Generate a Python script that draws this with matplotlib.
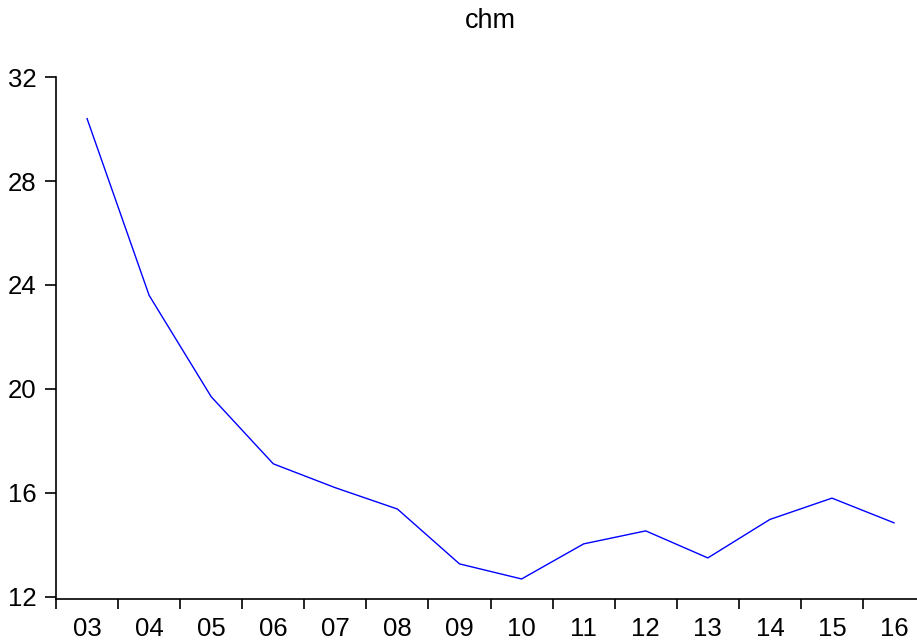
import numpy as np
import matplotlib.pyplot as plt
from matplotlib.ticker import FixedLocator

plt.rcParams['font.family'] = ['Liberation Sans', 'DejaVu Sans']

years = ['03', '04', '05', '06', '07', '08', '09', '10', '11', '12', '13', '14', '15', '16']
chm = [30.4, 23.6, 19.7, 17.12, 16.2, 15.38, 13.27, 12.69, 14.04, 14.54, 13.5, 14.98, 15.8, 14.85]

fig = plt.figure(figsize=(9.17, 6.42), dpi=100)
ax = fig.add_axes([0.0611, 0.067, 0.9389, 0.813])

x = np.arange(len(years))
ax.plot(x, chm, color='#0000ff', lw=1.0)

ax.set_xlim(-0.5, 13.37)
ax.set_ylim(11.92, 32)
ax.set_yticks([12, 16, 20, 24, 28, 32])
ax.set_xticks(x)
ax.set_xticklabels(years)
ax.xaxis.set_minor_locator(FixedLocator(np.arange(len(years) + 1) - 0.5))

ax.tick_params(axis='x', which='major', length=0, pad=13, labelsize=18.5)
ax.tick_params(axis='x', which='minor', length=7, width=1.2, direction='out')
ax.tick_params(axis='y', length=8, width=1.2, pad=6, labelsize=18.5)

for s in ['top', 'right']:
    ax.spines[s].set_visible(False)
for s in ['left', 'bottom']:
    ax.spines[s].set_linewidth(1.2)

fig.text(0.535, 0.968, 'chm', ha='center', va='center', fontsize=19.5)

fig.savefig('out.png', dpi=100)
